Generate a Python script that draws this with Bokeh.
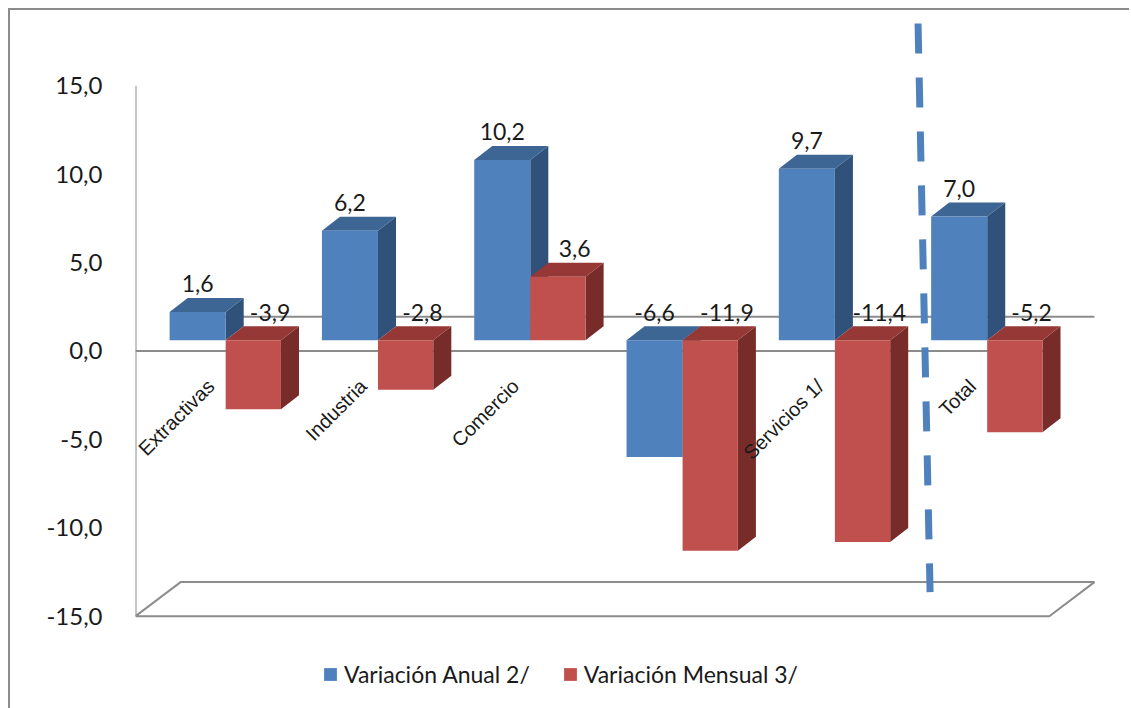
import math
from bokeh.plotting import figure
from bokeh.models import FixedTicker, Legend, LegendItem, Range1d
from bokeh.core.properties import value
from bokeh.embed import file_html
from bokeh.resources import INLINE

# ---------------- data ----------------
categories = ["Extractivas", "Industria", "Comercio", "", "Servicios 1/", "Total"]
anual = [1.6, 6.2, 10.2, -6.6, 9.7, 7.0]
mensual = [-3.9, -2.8, 3.6, -11.9, -11.4, -5.2]
series_names = ["Variación Anual 2/", "Variación Mensual 3/"]
y_ticks = [-15, -10, -5, 0, 5, 10, 15]
y_tick_labels = ["-15,0", "-10,0", "-5,0", "0,0", "5,0", "10,0", "15,0"]

# ---------------- style / geometry ----------------
PX_X = 152.0        # px per category
PX_Y = 17.63        # px per unit
BASE = 0.6          # front-face baseline offset (3D)
DEPTH_X = 18 / PX_X
DEPTH_Y = 14 / PX_Y
FLOOR_DX = 45 / PX_X
FLOOR_DY = 1.93
BARS = [  # (left offset, right offset, front, top, side)
    (0.224, 0.592, "#4F81BD", "#3D6695", "#30517A"),
    (0.592, 0.955, "#C0504D", "#953836", "#782C2A"),
]
GRAY = "#8C8C8C"
NUM_FONT = value("Lato")
CAT_FONT = value("Liberation Sans")

W, H = 1121, 700
ORIGIN = 10          # page px of canvas origin (margin 8 + border 2)
LEFT = 135 - ORIGIN
x_end = (ORIGIN + W - 2 - 135) / PX_X
y_top = 15 + (85 - ORIGIN) / PX_Y
y_bot = -15 - (ORIGIN + H - 2 - 614) / PX_Y

p = figure(width=W, height=H, output_backend="svg", toolbar_location=None,
           x_axis_type=None, x_range=Range1d(0, x_end), y_range=Range1d(y_bot, y_top),
           min_border_left=LEFT, min_border_right=0, min_border_top=0, min_border_bottom=0)
p.styles = {"margin-left": "8px", "margin-top": "8px",
            "border-left": "2px solid #8C8C8C", "border-top": "2px solid #8C8C8C"}
p.outline_line_color = None
p.ygrid.grid_line_color = None
p.background_fill_color = "white"

ya = p.yaxis[0]
ya.ticker = FixedTicker(ticks=y_ticks)
ya.major_label_overrides = {t: l for t, l in zip(y_ticks, y_tick_labels)}
ya.axis_line_color = None
ya.major_tick_line_color = None
ya.minor_tick_line_color = None
ya.major_label_standoff = 27
ya.major_label_text_font = "Lato"
ya.major_label_text_font_size = "24px"
ya.major_label_text_color = "#1A1A1A"

n = len(categories)
ymin, ymax = y_ticks[0], y_ticks[-1]

# back wall zero line
p.line([FLOOR_DX, n + FLOOR_DX], [FLOOR_DY, FLOOR_DY], line_color=GRAY, line_width=2)
# floor
p.patch([0, n, n + FLOOR_DX, FLOOR_DX, 0], [ymin, ymin, ymin + FLOOR_DY, ymin + FLOOR_DY, ymin],
        fill_color=None, line_color=GRAY, line_width=2)
# vertical axis line
p.line([0, 0], [ymin, ymax], line_color=GRAY, line_width=2)
# front zero line
p.line([0, n], [0, 0], line_color=GRAY, line_width=2)

front_renderers = []
for si, vals in enumerate([anual, mensual]):
    lo_off, hi_off, cf, ct, cs = BARS[si]
    lefts = [i + lo_off for i in range(n)]
    rights = [i + hi_off for i in range(n)]
    his = [max(v, 0) + BASE for v in vals]
    los = [min(v, 0) + BASE for v in vals]
    top_xs = [[l, l + DEPTH_X, r + DEPTH_X, r] for l, r in zip(lefts, rights)]
    top_ys = [[h, h + DEPTH_Y, h + DEPTH_Y, h] for h in his]
    side_xs = [[r, r + DEPTH_X, r + DEPTH_X, r] for r in rights]
    side_ys = [[lo, lo + DEPTH_Y, h + DEPTH_Y, h] for lo, h in zip(los, his)]
    p.patches(side_xs, side_ys, fill_color=cs, line_color=None)
    p.patches(top_xs, top_ys, fill_color=ct, line_color=None)
    r = p.quad(left=lefts, right=rights, bottom=los, top=his, fill_color=cf, line_color=None)
    front_renderers.append(r)

# data labels
for si, vals in enumerate([anual, mensual]):
    lo_off, hi_off = BARS[si][0], BARS[si][1]
    shift = 0.0 if si == 0 else 0.11
    xs = [i + (lo_off + hi_off) / 2 + shift for i in range(n)]
    ys = [max(v, 0) + BASE + DEPTH_Y + 0.8 for v in vals]
    txt = [("%.1f" % v).replace(".", ",") for v in vals]
    p.text(xs, ys, text=txt, text_align="center", text_baseline="middle",
           text_font=NUM_FONT, text_font_size="23px", text_color="#1A1A1A")

# category labels (rotated)
p.text([i + 0.495 for i in range(n)], [-1.8] * n, text=categories, angle=math.pi / 4,
       text_align="right", text_baseline="middle", text_font=CAT_FONT,
       text_font_size="20px", text_color="#1A1A1A")

# dashed separator before "Total"
sep = n - 1
p.line([sep + 0.138, sep + 0.217], [18.52, -13.64], line_color="#4F81BD", line_width=7,
       line_dash="30 24")

legend = Legend(items=[LegendItem(label=series_names[0], renderers=[front_renderers[0]]),
                       LegendItem(label=series_names[1], renderers=[front_renderers[1]])],
                orientation="horizontal", location=(187, 22))
legend.border_line_color = None
legend.background_fill_alpha = 0
legend.padding = 0
legend.margin = 0
legend.spacing = 32
legend.label_standoff = 6
legend.glyph_width = 16
legend.glyph_height = 16
legend.label_text_font = "Lato"
legend.label_text_font_size = "23px"
legend.label_text_color = "#1A1A1A"
p.add_layout(legend)

open("out.html", "w").write(file_html(p, INLINE))
